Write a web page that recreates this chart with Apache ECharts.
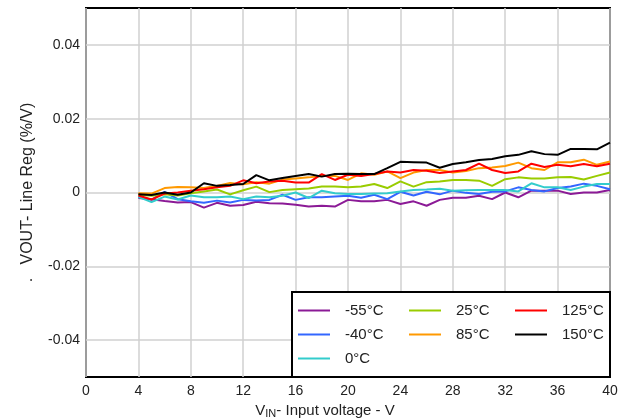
<!DOCTYPE html>
<html>
<head>
<meta charset="utf-8">
<script src="https://cdn.jsdelivr.net/npm/echarts@6/dist/echarts.min.js"></script>
<style>html,body{margin:0;padding:0;background:#fff;}#c{width:628px;height:419px;}</style>
</head>
<body>
<div id="c"></div>
<script>
const volts = [4,5,6,7,8,9,10,11,12,13,14,15,16,17,18,19,20,21,22,23,24,25,26,27,28,29,30,31,32,33,34,35,36,37,38,39,40];
const xTicks = [0,4,8,12,16,20,24,28,32,36,40];
const yTicks = [-0.04,-0.02,0,0.02,0.04];
const seriesNames = ['-55°C','-40°C','0°C','25°C','85°C','125°C','150°C'];
const m55 = [-0.0015,-0.0018,-0.0023,-0.0027,-0.0026,-0.0041,-0.0028,-0.0036,-0.0034,-0.0025,-0.0029,-0.0030,-0.0033,-0.0038,-0.0036,-0.0038,-0.0020,-0.0024,-0.0024,-0.0020,-0.0031,-0.0024,-0.0036,-0.0020,-0.0014,-0.0014,-0.0009,-0.0018,0.0000,-0.0013,0.0005,0.0005,0.0005,-0.0004,0.0000,0.0000,0.0007];
const m40 = [-0.0012,-0.0020,0.0002,-0.0018,-0.0024,-0.0028,-0.0022,-0.0027,-0.0020,-0.0022,-0.0020,-0.0006,-0.0020,-0.0013,-0.0013,-0.0011,-0.0009,-0.0014,-0.0006,-0.0018,0.0002,-0.0008,0.0002,-0.0005,0.0005,-0.0001,-0.0004,0.0002,0.0003,0.0014,0.0007,0.0003,0.0012,0.0016,0.0024,0.0018,0.0009];
const t0 = [-0.0012,-0.0026,-0.0011,-0.0019,-0.0008,-0.0013,-0.0013,-0.0011,-0.0018,-0.0011,-0.0013,-0.0009,0.0000,-0.0015,0.0005,-0.0002,-0.0004,-0.0004,-0.0003,-0.0002,0.0003,0.0007,0.0008,0.0010,0.0005,0.0006,0.0007,0.0007,0.0007,0.0003,0.0025,0.0014,0.0014,0.0007,0.0016,0.0023,0.0023];
const t25 = [-0.0006,-0.0009,-0.0005,-0.0008,-0.0002,0.0003,0.0008,-0.0005,0.0006,0.0016,0.0001,0.0007,0.0009,0.0011,0.0016,0.0016,0.0014,0.0016,0.0023,0.0012,0.0030,0.0016,0.0028,0.0030,0.0034,0.0034,0.0032,0.0018,0.0036,0.0041,0.0038,0.0038,0.0041,0.0042,0.0035,0.0045,0.0054];
const t85 = [-0.0002,-0.0003,0.0012,0.0015,0.0014,0.0012,0.0018,0.0026,0.0022,0.0028,0.0024,0.0035,0.0038,0.0041,0.0045,0.0045,0.0034,0.0052,0.0048,0.0057,0.0039,0.0054,0.0061,0.0061,0.0054,0.0058,0.0066,0.0068,0.0072,0.0081,0.0066,0.0061,0.0082,0.0082,0.0089,0.0075,0.0084];
const t125 = [-0.0008,-0.0019,-0.0003,0.0000,0.0005,0.0009,0.0014,0.0018,0.0033,0.0025,0.0030,0.0032,0.0027,0.0027,0.0050,0.0034,0.0048,0.0045,0.0050,0.0057,0.0054,0.0061,0.0059,0.0053,0.0057,0.0061,0.0078,0.0061,0.0053,0.0057,0.0078,0.0069,0.0075,0.0071,0.0077,0.0071,0.0078];
const t150 = [-0.0005,-0.0007,0.0000,-0.0006,0.0000,0.0025,0.0018,0.0020,0.0023,0.0047,0.0033,0.0039,0.0045,0.0050,0.0043,0.0050,0.0051,0.0050,0.0050,0.0066,0.0083,0.0082,0.0081,0.0067,0.0077,0.0082,0.0088,0.0091,0.0098,0.0102,0.0112,0.0104,0.0102,0.0118,0.0118,0.0117,0.0135];
const colors = ['#8B1A96','#3366FF','#33CCCC','#99CC00','#FF9900','#FF0000','#000000'];
const allData = [m55,m40,t0,t25,t85,t125,t150];

const chart = echarts.init(document.getElementById('c'));
const font = 'Arial, "Liberation Sans", sans-serif';
const legendCommon = {
  orient: 'vertical', top: 303, padding: 0, itemWidth: 32, itemHeight: 14, itemGap: 9,
  textStyle: {fontFamily: font, fontSize: 15, color: '#222', padding: [0, 0, 0, 10]}, itemStyle: {opacity: 0},
  selectedMode: false, z: 20
};
chart.setOption({
  animation: false,
  color: colors,
  grid: {left: 86, right: 18, top: 8, bottom: 42, outerBoundsMode: 'none', containLabel: false,
    show: true, borderColor: '#000', borderWidth: 2, backgroundColor: '#fff'},
  xAxis: {
    type: 'value', min: 0, max: 40, interval: 4,
    axisLine: {show: false}, axisTick: {show: false},
    splitLine: {show: true, lineStyle: {color: '#d0d0d0', width: 1.5}},
    axisLabel: {fontFamily: font, fontSize: 14, color: '#222', margin: 7, customValues: xTicks},
    name: '{a|V}{b|IN}{a|- Input voltage - V}', nameLocation: 'middle', nameGap: 23,
    nameTextStyle: {padding: [0, 46, 0, 0], rich: {
      a: {fontFamily: font, fontSize: 15, color: '#222'},
      b: {fontFamily: font, fontSize: 11, color: '#222', padding: [8,0,0,0]}
    }}
  },
  yAxis: {
    type: 'value', min: -0.05, max: 0.05,
    axisLine: {show: false},
    axisTick: {show: false, customValues: yTicks},
    splitLine: {show: true, lineStyle: {color: '#d0d0d0', width: 1.5}},
    axisLabel: {fontFamily: font, fontSize: 14, color: '#222', margin: 6, customValues: yTicks,
      formatter: v => (Math.abs(v) < 1e-9 ? '0' : v.toFixed(2))},
    name: '.   VOUT- Line Reg (%/V)', nameLocation: 'middle', nameGap: 50, nameRotate: 90,
    nameTextStyle: {fontFamily: font, fontSize: 16, color: '#222'}
  },
  legend: [
    Object.assign({left: 297, data: ['-55°C','-40°C','0°C']}, legendCommon),
    Object.assign({left: 408, data: ['25°C','85°C']}, legendCommon),
    Object.assign({left: 514, data: ['125°C','150°C']}, legendCommon)
  ],
  graphic: [{
    type: 'rect', z: 10, shape: {x: 292, y: 292, width: 318, height: 85},
    style: {fill: '#fff', stroke: '#000', lineWidth: 2}
  }],
  series: seriesNames.map((n, i) => ({
    name: n, type: 'line', symbol: 'none', z: 2,
    lineStyle: {width: 2, color: colors[i]},
    data: volts.map((v, k) => [v, allData[i][k]])
  }))
});
</script>
</body>
</html>
